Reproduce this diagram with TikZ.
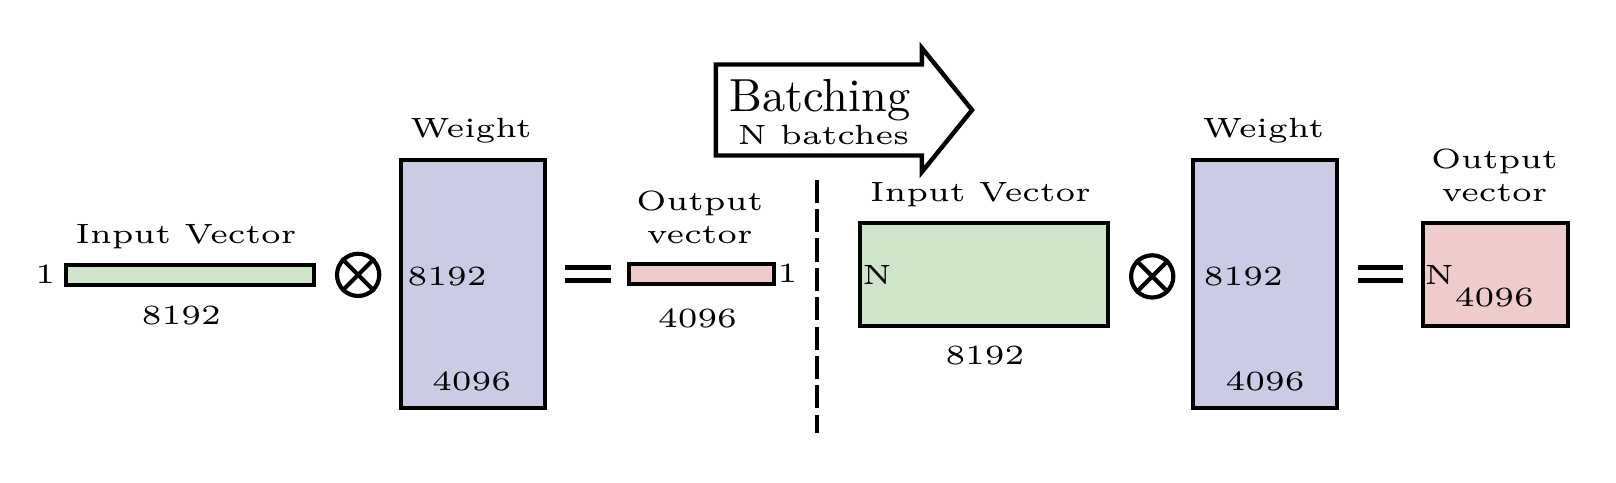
\documentclass[tikz,border=0pt]{standalone}
\usepackage{tikz}
\usetikzlibrary{shapes.arrows}
\definecolor{vecgreen}{RGB}{207,229,202}
\definecolor{wtblue}{RGB}{203,203,230}
\definecolor{outpink}{RGB}{239,203,203}
\tikzstyle{vecbox} = [rectangle, draw=black, line width=0.85pt, fill=vecgreen, inner sep=0pt]
\tikzstyle{wtbox} = [rectangle, draw=black, line width=0.85pt, fill=wtblue, inner sep=0pt, minimum width=1.092cm, minimum height=1.882cm]
\tikzstyle{outbox} = [rectangle, draw=black, line width=0.85pt, fill=outpink, inner sep=0pt]
\tikzstyle{lbl} = [font=\fontsize{6}{7}\selectfont, inner sep=0pt, anchor=base, xscale=1.16, align=center]
\tikzstyle{otimes} = [circle, draw=black, line width=0.9pt, minimum size=0.32cm, inner sep=0pt]
\tikzstyle{eqsign} = [rectangle, minimum width=0.328cm, minimum height=0.086cm, inner sep=0pt]
\tikzstyle{eqbar} = [line width=1pt]
\tikzstyle{divider} = [line width=0.85pt, dash pattern=on 5pt off 1.33pt]
\tikzstyle{batcharrow} = [single arrow, draw=black, fill=white, line width=0.95pt, minimum height=1.941cm, minimum width=0.906cm, single arrow head extend=0.125cm, single arrow tip angle=102, inner xsep=0pt, inner ysep=0.328cm]

\begin{document}
\begin{tikzpicture}[x=0.7809cm, y=0.7809cm]
\useasboundingbox (0,0) rectangle (15.68,4.677);
% single vector
\node (invec) [vecbox, minimum width=1.874cm, minimum height=0.155cm] at (1.843,2.008) {};
\node (invecone) [lbl] at (0.44,1.93) {1};
\node (invectitle) [lbl] at (1.805,2.31) {Input Vector};
\node (invecdim) [lbl] at (1.76,1.53) {8192};
\node (ot1) [otimes] at (3.475,2.01) {};
\draw [line width=0.9pt] (ot1.north west) -- (ot1.south east) (ot1.north east) -- (ot1.south west);
\node (wl) [wtbox] at (4.589,1.919) {};
\node (wltitle) [lbl] at (4.57,3.338) {Weight};
\node (wlrows) [lbl] at (4.338,1.905) {8192};
\node (wlcols) [lbl] at (4.577,0.885) {4096};
\node (eq1) [eqsign] at (5.705,2.02) {};
\draw [eqbar] (eq1.north west) -- (eq1.north east) (eq1.south west) -- (eq1.south east);
\node (outbar) [outbox, minimum width=1.099cm, minimum height=0.155cm] at (6.803,2.017) {};
\node (outbartitle) [lbl] at (6.79,2.319) {Output\\vector};
\node (outbarone) [lbl] at (7.64,1.932) {1};
\node (outbardim) [lbl] at (6.768,1.50) {4096};
% divider and batching arrow
\coordinate (dtop) at (7.924,2.933);
\coordinate (dbot) at (7.924,0.48);
\draw [divider] (dtop) -- (dbot);
\node (batch) [batcharrow, anchor=tail] at (6.925,3.61) {};
\node (batchtitle) [font=\normalsize, inner sep=0pt, anchor=base] at (7.956,3.596) {Batching};
\node (batchsub) [lbl] at (7.99,3.273) {N batches};
% batched matrices
\node (inmat) [vecbox, minimum width=1.882cm, minimum height=0.785cm] at (9.55,2.015) {};
\node (inmattitle) [lbl] at (9.514,2.723) {Input Vector};
\node (inmatn) [lbl] at (8.51,1.915) {N};
\node (inmatdim) [lbl] at (9.557,1.138) {8192};
\node (ot2) [otimes] at (11.18,1.995) {};
\draw [line width=0.9pt] (ot2.north west) -- (ot2.south east) (ot2.north east) -- (ot2.south west);
\node (wr) [wtbox] at (12.278,1.919) {};
\node (wrtitle) [lbl] at (12.259,3.338) {Weight};
\node (wrrows) [lbl] at (12.064,1.905) {8192};
\node (wrcols) [lbl] at (12.275,0.885) {4096};
\node (eq2) [eqsign] at (13.395,2.02) {};
\draw [eqbar] (eq2.north west) -- (eq2.north east) (eq2.south west) -- (eq2.south east);
\node (outmat) [outbox, minimum width=1.096cm, minimum height=0.785cm] at (14.512,2.015) {};
\node (outmattitle) [lbl] at (14.50,2.723) {Output\\vector};
\node (outmatn) [lbl] at (13.966,1.915) {N};
\node (outmatdim) [lbl] at (14.50,1.704) {4096};
\end{tikzpicture}
\end{document}
